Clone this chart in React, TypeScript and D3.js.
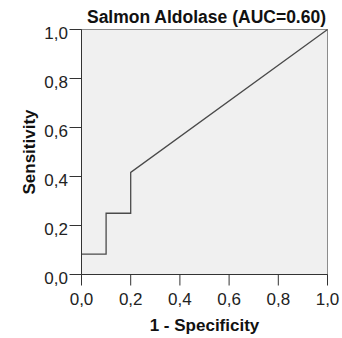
import React from "react";
import * as d3 from "d3";

// ROC curve points: 1 - specificity vs sensitivity
const fpr = [0, 0.1, 0.1, 0.2, 0.2, 1.0];
const tpr = [1 / 12, 1 / 12, 3 / 12, 3 / 12, 5 / 12, 1.0];
const tickValues = [0, 0.2, 0.4, 0.6, 0.8, 1.0];
const tickLabels = ["0,0", "0,2", "0,4", "0,6", "0,8", "1,0"];
const title = "Salmon Aldolase (AUC=0.60)";
const xTitle = "1 - Specificity";
const yTitle = "Sensitivity";

export default function App() {
  const W = 342, H = 338;
  const left = 81.5, right = 327.5, top = 29.5, bottom = 274.5;
  const x = d3.scaleLinear().domain([0, 1]).range([left, right]);
  const y = d3.scaleLinear().domain([0, 1]).range([bottom, top]);
  const pts: [number, number][] = fpr.map((v, i) => [v, tpr[i]]);
  const line = d3.line<[number, number]>().x(d => x(d[0])).y(d => y(d[1]));
  const font = "Arial, 'Liberation Sans', sans-serif";
  return (
    <svg width={W} height={H} style={{ position: "absolute", left: 0, top: 0 }} fontFamily={font}>
      <rect x={left} y={top} width={right - left} height={bottom - top} fill="#f0f0f0" stroke="#8c8c8c" strokeWidth={1} />
      <path d={line(pts) ?? ""} fill="none" stroke="#4a4a4a" strokeWidth={1.3} />
      <line x1={left} x2={left} y1={top} y2={bottom} stroke="#333" />
      <line x1={left} x2={right} y1={bottom} y2={bottom} stroke="#333" />
      {tickValues.map((v, i) => (
        <g key={"x" + i}>
          <line x1={x(v)} x2={x(v)} y1={bottom} y2={bottom + 11} stroke="#333" />
          <text x={x(v)} y={305} textAnchor="middle" fontSize={17} fill="#222">{tickLabels[i]}</text>
        </g>
      ))}
      {tickValues.map((v, i) => (
        <g key={"y" + i}>
          <line x1={left - 12} x2={left} y1={y(v)} y2={y(v)} stroke="#333" />
          <text x={68} y={y(v) + 9} textAnchor="end" fontSize={17} fill="#222">{tickLabels[i]}</text>
        </g>
      ))}
      <text x={(left + right) / 2 + 2} y={23} textAnchor="middle" fontSize={17.5} fontWeight="bold" fill="#111">{title}</text>
      <text x={(left + right) / 2} y={331} textAnchor="middle" fontSize={17} fontWeight="bold" fill="#111">{xTitle}</text>
      <text transform={`translate(35,${(top + bottom) / 2}) rotate(-90)`} textAnchor="middle" fontSize={17} fontWeight="bold" fill="#111">{yTitle}</text>
    </svg>
  );
}
